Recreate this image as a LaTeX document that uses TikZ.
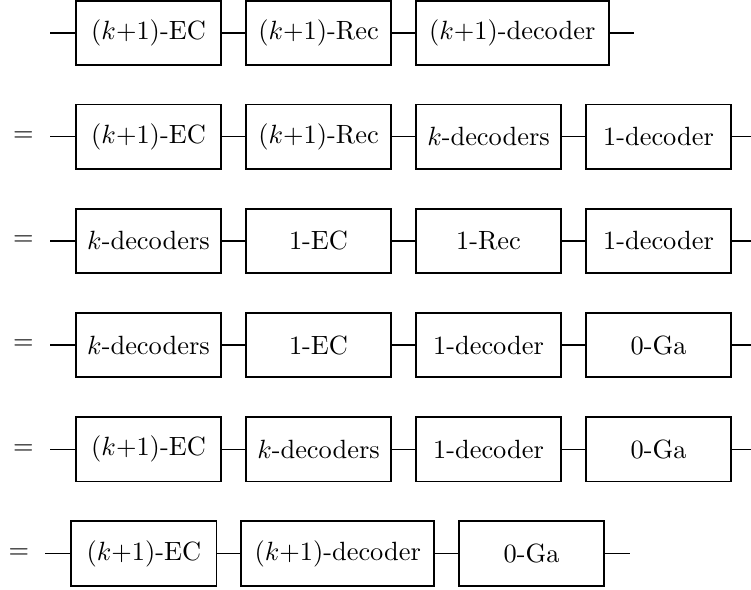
\documentclass[tikz,border=0pt]{standalone}

\tikzset{every picture/.style={line width=0.5pt}}
\tikzset{blk/.style={draw, line width=0.65pt, minimum width=55pt, minimum height=24.4pt, inner sep=0pt},
  wblk/.style={blk, minimum width=73.1pt}}

\begin{document}
\begin{tikzpicture}[x=0.379pt,y=0.379pt,yscale=-1,xscale=1]
\useasboundingbox (0,0) rectangle (751,590);

%Row 1
\coordinate (i1) at (50,33);
\node[blk] (a1) at (148.5,33) {$(k{+}1)$-EC};
\node[blk] (b1) at (318.5,33) {$(k{+}1)$-Rec};
\node[wblk] (c1) at (512.2,33) {$(k{+}1)$-decoder};
\coordinate (o1) at (634,33);
\draw (i1) -- (a1) -- (b1) -- (c1) -- (o1);

%Row 2
\node (eq2) at (23.5,136.7) {$=$};
\coordinate (i2) at (50,136.7);
\node[blk] (a2) at (148.5,136.7) {$(k{+}1)$-EC};
\node[blk] (b2) at (318.5,136.7) {$(k{+}1)$-Rec};
\node[blk] (c2) at (488.5,136.7) {$k$-decoders};
\node[blk] (d2) at (658.5,136.7) {1-decoder};
\coordinate (o2) at (756,136.7);
\draw (i2) -- (a2) -- (b2) -- (c2) -- (d2) -- (o2);

%Row 3
\node (eq3) at (23.5,240.9) {$=$};
\coordinate (i3) at (50,240.9);
\node[blk] (a3) at (148.5,240.9) {$k$-decoders};
\node[blk] (b3) at (318.5,240.9) {1-EC};
\node[blk] (c3) at (488.5,240.9) {1-Rec};
\node[blk] (d3) at (658.5,240.9) {1-decoder};
\coordinate (o3) at (756,240.9);
\draw (i3) -- (a3) -- (b3) -- (c3) -- (d3) -- (o3);

%Row 4
\node (eq4) at (23.5,345.1) {$=$};
\coordinate (i4) at (50,345.1);
\node[blk] (a4) at (148.5,345.1) {$k$-decoders};
\node[blk] (b4) at (318.5,345.1) {1-EC};
\node[blk] (c4) at (488.5,345.1) {1-decoder};
\node[blk] (d4) at (658.5,345.1) {0-Ga};
\coordinate (o4) at (756,345.1);
\draw (i4) -- (a4) -- (b4) -- (c4) -- (d4) -- (o4);

%Row 5
\node (eq5) at (23.5,449.3) {$=$};
\coordinate (i5) at (50,449.3);
\node[blk] (a5) at (148.5,449.3) {$(k{+}1)$-EC};
\node[blk] (b5) at (318.5,449.3) {$k$-decoders};
\node[blk] (c5) at (488.5,449.3) {1-decoder};
\node[blk] (d5) at (658.5,449.3) {0-Ga};
\coordinate (o5) at (756,449.3);
\draw (i5) -- (a5) -- (b5) -- (c5) -- (d5) -- (o5);

%Row 6
\node (eq6) at (18.9,553.5) {$=$};
\coordinate (i6) at (45.4,553.5);
\node[blk] (a6) at (143.9,553.5) {$(k{+}1)$-EC};
\node[wblk] (b6) at (337.7,553.5) {$(k{+}1)$-decoder};
\node[blk] (c6) at (531.5,553.5) {0-Ga};
\coordinate (o6) at (630.3,553.5);
\draw (i6) -- (a6) -- (b6) -- (c6) -- (o6);

\end{tikzpicture}
\end{document}
